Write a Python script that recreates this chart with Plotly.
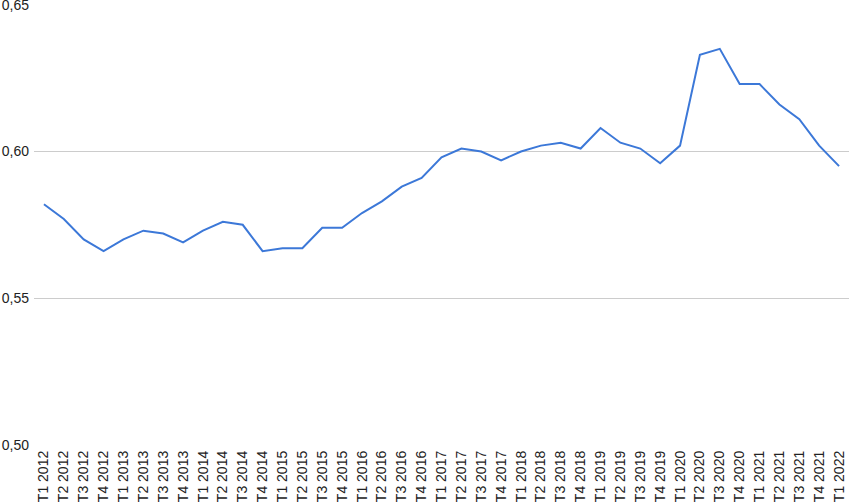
import plotly.graph_objects as go

quarters = ["T1", "T2", "T3", "T4"]
categories = [f"{q} {y}" for y in range(2012, 2022) for q in quarters] + ["T1 2022"]
values = [0.582, 0.577, 0.570, 0.566, 0.570, 0.573, 0.572, 0.569,
          0.573, 0.576, 0.575, 0.566, 0.567, 0.567, 0.574, 0.574,
          0.579, 0.583, 0.588, 0.591, 0.598, 0.601, 0.600, 0.597,
          0.600, 0.602, 0.603, 0.601, 0.608, 0.603, 0.601, 0.596,
          0.602, 0.633, 0.635, 0.623, 0.623, 0.616, 0.611, 0.602,
          0.595]
y_ticks = [0.50, 0.55, 0.60, 0.65]

fig = go.Figure(go.Scatter(x=categories, y=values, mode="lines",
                           line=dict(color="#3c78d8", width=2)))
fig.update_layout(
    width=850, height=504,
    margin=dict(l=34, r=1, t=4, b=59, autoexpand=False),
    plot_bgcolor="white", paper_bgcolor="white",
    separators=", ",
    showlegend=False,
    font=dict(family="Liberation Sans, Arial, sans-serif", size=14, color="#222222"),
)
fig.update_xaxes(type="category", range=[-0.5, len(categories) - 0.5],
                 tickangle=-90, showgrid=False, showline=False,
                 ticks="", automargin=False, ticklabelstandoff=2,
                 tickfont=dict(size=14, color="#222222"))
fig.update_yaxes(range=[0.4999, 0.6503], tickvals=y_ticks, tickformat=".2f",
                 showgrid=True, gridcolor="#cccccc", gridwidth=1, zeroline=False,
                 showline=False, ticks="", automargin=False, ticklabelstandoff=4,
                 ticklabeloverflow="allow",
                 tickfont=dict(size=14, color="#222222"))
fig.write_html("out.html", config={"displayModeBar": False},
               post_script="document.body.style.margin='0';document.body.style.overflow='hidden';")
